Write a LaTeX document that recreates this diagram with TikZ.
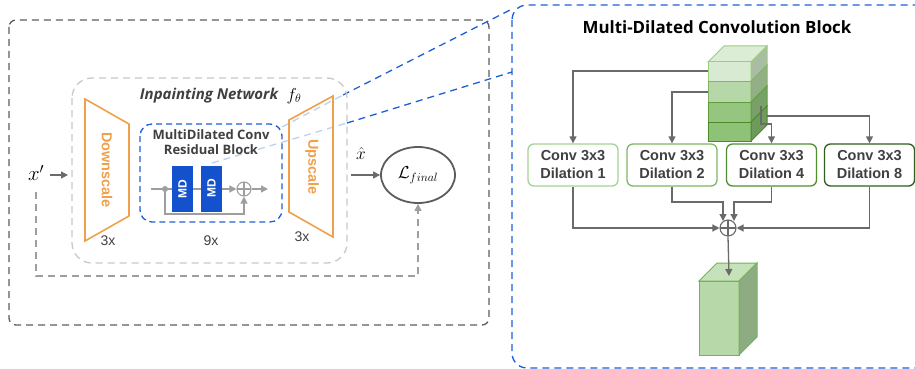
\documentclass[tikz,border=0pt]{standalone}
\usepackage{fontspec}
\usepackage{graphicx}
\setmainfont{Liberation Sans}
\newfontfamily\osans{Open Sans}
\usetikzlibrary{arrows.meta,shapes.geometric,calc}
\definecolor{cgray}{HTML}{6A6A6A}
\definecolor{lgray}{HTML}{9E9E9E}
\definecolor{ngray}{HTML}{C8C8C8}
\definecolor{dgray}{HTML}{5C5C5C}
\definecolor{tgray}{HTML}{404040}
\definecolor{orng}{HTML}{F0A04B}
\definecolor{blu}{HTML}{1F5FD6}
\definecolor{lblu}{HTML}{BCD0F2}
\definecolor{mdblue}{HTML}{1352CC}
\definecolor{gA}{HTML}{A3D393}
\definecolor{gB}{HTML}{7DB862}
\definecolor{gC}{HTML}{4F8F30}
\definecolor{gD}{HTML}{2F5E1E}
\definecolor{topf}{HTML}{DCEDD5}
\definecolor{f1}{HTML}{D9EAD3}\definecolor{s1}{HTML}{AABDA2}\definecolor{b1}{HTML}{97D077}
\definecolor{f2}{HTML}{B6D8A9}\definecolor{s2}{HTML}{92AF86}\definecolor{b2}{HTML}{82B366}
\definecolor{f3}{HTML}{95C57F}\definecolor{s3}{HTML}{77A166}\definecolor{b3}{HTML}{5E9E3C}
\definecolor{f4}{HTML}{8DC277}\definecolor{s4}{HTML}{6E9A5C}\definecolor{b4}{HTML}{4A8A2A}
\definecolor{of}{HTML}{B7D8A8}\definecolor{os}{HTML}{8EAC82}\definecolor{ot}{HTML}{C6E2BA}\definecolor{ob}{HTML}{74B356}
\tikzset{
  conn/.style={draw=cgray, line width=1.3pt, -{Triangle[length=7pt,width=7pt]}},
  lconn/.style={draw=lgray, line width=1.3pt, -{Triangle[length=7pt,width=7pt]}},
  convbox/.style={draw, line width=1.3pt, rounded corners=6pt, fill=white, minimum width=90pt, minimum height=42pt, align=center, inner sep=0pt, text=tgray, font=\fontsize{14.5}{18}\selectfont\bfseries},
  plusnode/.style={circle, draw=#1, line width=1.1pt, inner sep=0pt, path picture={\draw[#1, line width=1.1pt] (path picture bounding box.north) -- (path picture bounding box.south) (path picture bounding box.west) -- (path picture bounding box.east);}},
  mdbox/.style={fill=mdblue, minimum width=21pt, minimum height=46pt, inner sep=0pt, text=white, font=\fontsize{12}{12}\selectfont\bfseries},
  smalltxt/.style={text=tgray, font=\fontsize{14}{14}\selectfont},
  scaletxt/.style={text=orng, font=\fontsize{14.5}{14.5}\selectfont\bfseries},
}
\begin{document}
\begin{tikzpicture}[x=1pt,y=-1pt]
\useasboundingbox (0,0) rectangle (915,369);
% outer boxes
\draw[dgray, line width=1.3pt, dash pattern=on 7pt off 5pt, rounded corners=7pt] (9,20) rectangle (489,325);
\draw[blu, line width=1.3pt, dash pattern=on 7pt off 5pt, rounded corners=15pt] (512,5) rectangle (940,368);
% zoom lines
\coordinate (l1a) at (282,127); \coordinate (l1b) at (343,95); \coordinate (l1c) at (512,9);
\coordinate (l2a) at (212,163); \coordinate (l2b) at (347,123); \coordinate (l2c) at (512,72);
\draw[lblu, line width=1.3pt, dash pattern=on 7pt off 5pt] (l1a) -- (l1b);
\draw[blu, line width=1.3pt, dash pattern=on 7pt off 5pt] (l1b) -- (l1c);
\draw[lblu, line width=1.3pt, dash pattern=on 7pt off 5pt] (l2a) -- (l2b);
\draw[blu, line width=1.3pt, dash pattern=on 7pt off 5pt] (l2b) -- (l2c);
% network box
\draw[ngray, line width=1.3pt, dash pattern=on 7pt off 5pt, rounded corners=20pt] (72,78) rectangle (347,263);
\node[text=tgray, font=\osans\fontsize{15}{15}\selectfont\bfseries\itshape] (nettitle) at (209,96) {Inpainting Network};
\node[font=\fontsize{18}{18}\selectfont] (ftheta) at (294,96) {$f_\theta$};
% trapezoids
\draw[orng, line width=1.6pt] (85,99) -- (129,124) -- (129,216) -- (85,241) -- cycle;
\draw[orng, line width=1.6pt] (289,120) -- (333,96) -- (333,237) -- (289,212) -- cycle;
\node[scaletxt, rotate=-90] (down) at (107,170) {Downscale};
\node[scaletxt, rotate=-90] (up) at (312,167) {Upscale};
\node[smalltxt] (n3a) at (108,241) {3x};
\node[smalltxt] (n3b) at (302,237) {3x};
\node[smalltxt] (n9) at (211,241) {9x};
% residual block
\draw[blu, line width=1.3pt, dash pattern=on 6pt off 4pt, rounded corners=12pt] (140,124) rectangle (282,222);
\node[text=tgray, align=center, font=\osans\fontsize{13}{15}\selectfont\bfseries] (rbtitle) at (211,142) {MultiDilated Conv\\Residual Block};
\coordinate (r0) at (151,189);
\node[circle, fill=lgray, inner sep=0pt, minimum size=6pt] (rdot) at (165,189) {};
\node[plusnode=lgray, minimum size=14pt] (rplus) at (244,189) {};
\coordinate (rout) at (268,189);
\coordinate (rskip) at (244,214);
\draw[lconn] (r0) -- (rplus.west);
\draw[lconn] (rplus.east) -- (rout);
\draw[lconn] (rdot) |- (rskip) -- (rplus.south);
\node[mdbox] (md1) at (182.5,189) {\rotatebox{90}{MD}};
\node[mdbox] (md2) at (211.5,188.5) {\rotatebox{90}{MD}};
% input / output
\node[font=\fontsize{22}{22}\selectfont] (xp) at (36,173) {$x'$};
\coordinate (xpa) at (50,175); \coordinate (xpb) at (68,175);
\draw[conn] (xpa) -- (xpb);
\node[font=\fontsize{19}{19}\selectfont] (xh) at (361,153) {$\hat{x}$};
\node[ellipse, draw=dgray, line width=1.8pt, minimum width=74pt, minimum height=56pt, inner sep=0pt, font=\fontsize{18.5}{18.5}\selectfont] (loss) at (418,175) {$\mathcal{L}_{final}$};
\coordinate (xha) at (351,175);
\draw[conn] (xha) -- (loss.west);
\coordinate (fb1) at (36,192); \coordinate (fb2) at (418,276);
\draw[lgray, line width=1.3pt, dash pattern=on 7pt off 5pt, -{Triangle[length=7pt,width=7pt]}] (fb1) |- (fb2) -- (loss.south);
% right part
\node[font=\osans\fontsize{16.9}{16.9}\selectfont\bfseries] (rtitle) at (717,27) {Multi-Dilated Convolution Block};
% stacked cube
\draw[draw=b1, fill=topf, line width=1pt] (708,62) -- (724,46) -- (767,46) -- (751,62) -- cycle;
\draw[draw=b1, fill=f1, line width=1pt] (708,62) rectangle (751,81);
\draw[draw=b1, fill=s1, line width=1pt] (751,62) -- (767,46) -- (767,65) -- (751,81) -- cycle;
\draw[draw=b2, fill=f2, line width=1pt] (708,81) rectangle (751,102);
\draw[draw=b2, fill=s2, line width=1pt] (751,81) -- (767,65) -- (767,86) -- (751,102) -- cycle;
\draw[draw=b3, fill=f3, line width=1pt] (708,102) rectangle (751,122);
\draw[draw=b3, fill=s3, line width=1pt] (751,102) -- (767,86) -- (767,106) -- (751,122) -- cycle;
\draw[draw=b4, fill=f4, line width=1pt] (708,122) rectangle (751,141);
\draw[draw=b4, fill=s4, line width=1pt] (751,122) -- (767,106) -- (767,125) -- (751,141) -- cycle;
% conv boxes
\node[convbox, draw=gA] (c1) at (573,165) {Conv 3x3\\Dilation 1};
\node[convbox, draw=gB] (c2) at (672,165) {Conv 3x3\\Dilation 2};
\node[convbox, draw=gC] (c3) at (771.5,165) {Conv 3x3\\Dilation 4};
\node[convbox, draw=gD] (c4) at (869.5,165) {Conv 3x3\\Dilation 8};
% connectors from cube
\coordinate (k1) at (708,71); \coordinate (k2) at (708,92);
\coordinate (k3) at (761,106); \coordinate (k3m) at (761,124);
\coordinate (k4) at (767,116);
\draw[conn] (k1) -| (c1.north);
\draw[conn] (k2) -| (c2.north);
\draw[conn] (k3) -- (k3m) -| (c3.north);
\draw[conn] (k4) -| (c4.north);
% sum
\node[plusnode=cgray, minimum size=16pt] (sum) at (728,228) {};
\coordinate (s2a) at (723,202); \coordinate (s2b) at (723,221);
\coordinate (s3a) at (734,202); \coordinate (s3b) at (734,221);
\draw[conn] (c1.south) |- (sum.west);
\draw[conn] (c4.south) |- (sum.east);
\draw[conn] (c2.south) |- (s2a) -- (s2b);
\draw[conn] (c3.south) |- (s3a) -- (s3b);
% output cube
\draw[draw=ob, fill=ot, line width=1pt] (699,281) -- (717,263) -- (757,263) -- (739,281) -- cycle;
\draw[draw=ob, fill=of, line width=1pt] (699,281) rectangle (739,355);
\draw[draw=ob, fill=os, line width=1pt] (739,281) -- (757,263) -- (757,337) -- (739,355) -- cycle;
\coordinate (outtop) at (729,276);
\draw[conn] (sum.south) -- (outtop);
\end{tikzpicture}
\end{document}
